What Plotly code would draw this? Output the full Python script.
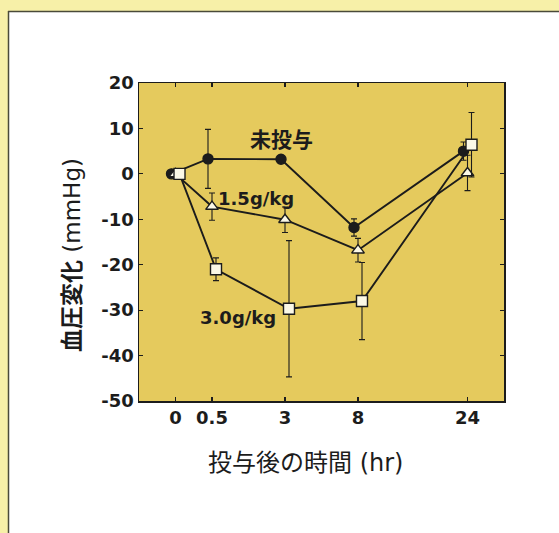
import plotly.graph_objects as go

# ---- data ----
time_labels = ["0", "0.5", "3", "8", "24"]
time_pos = [0, 1, 3, 5, 8]          # axis slots used for the uneven time axis

control = [0, 3.3, 3.2, -11.8, 5.0]
control_err = [0, 6.5, 0.6, 1.9, 2.0]

dose15 = [0, -7.2, -10.1, -16.8, 0.2]
dose15_err = [0, 3.0, 2.8, 2.6, 3.9]

dose30 = [0, -21.0, -29.7, -28.0, 6.4]
dose30_err = [0, 2.5, 15.0, 8.5, 7.1]

y_ticks = [20, 10, 0, -10, -20, -30, -40, -50]
y_tick_labels = ["20", "10", "0", "-10", "-20", "-30", "-40", "-50"]

x_title = "投与後の時間 (hr)"
y_title = "<b>血圧変化</b> (mmHg)"

# ---- layout geometry (pixels) ----
W, H = 559, 533
L, R, T, B = 139, 504, 83, 401
PX_PER_UNIT = (R - L) / 10.0

def px_to_units(p):
    return p / PX_PER_UNIT

def paper_x(px):
    return (px - L) / (R - L)

def paper_y(py):
    return (B - py) / (B - T)

ink = "#1c1c1c"
plot_bg = "#e5ca5d"
outer_bg = "#f7f0a8"

fig = go.Figure()

series = [
    (control, control_err, "circle", 10, ink, -4),
    (dose15, dose15_err, "triangle-up", 11, "#fbf8e6", 0),
    (dose30, dose30_err, "square", 11, "#fbf8e6", 4),
]
for vals, errs, sym, size, fill, dodge in series:
    fig.add_trace(go.Scatter(
        x=[p + px_to_units(dodge) for p in time_pos],
        y=vals,
        mode="lines+markers",
        line=dict(color=ink, width=1.9),
        marker=dict(symbol=sym, size=size, color=fill,
                    line=dict(color=ink, width=1.4)),
        error_y=dict(type="data", array=errs, visible=True,
                     color=ink, thickness=1.1, width=3),
        showlegend=False,
        cliponaxis=False,
        hoverinfo="skip",
    ))

label_font = dict(family="DejaVu Sans, sans-serif", size=18,
                  color=ink, weight="bold")
cjk_family = "DejaVu Sans, Noto Sans CJK JP, sans-serif"

fig.add_annotation(x=2.9, y=7.9, text="未投与", showarrow=False,
                   font=dict(family="Noto Sans CJK JP, sans-serif", size=21,
                             color=ink, weight="bold"))
fig.add_annotation(x=2.21, y=-5.5, text="1.5g/kg", showarrow=False, font=label_font)
fig.add_annotation(x=1.71, y=-31.6, text="3.0g/kg", showarrow=False, font=label_font)

# axis titles placed as text at their positions in the picture
fig.add_annotation(xref="paper", yref="paper", x=paper_x(305), y=paper_y(463),
                   text=x_title, showarrow=False, xanchor="center", yanchor="middle",
                   font=dict(family=cjk_family, size=24, color=ink))
fig.add_annotation(xref="paper", yref="paper", x=paper_x(72), y=paper_y(255),
                   text=y_title, showarrow=False, textangle=-90,
                   xanchor="center", yanchor="middle",
                   font=dict(family=cjk_family, size=23, color=ink))

# outer frame: yellow strips at left and top, dark border line
shapes = [
    dict(type="rect", xref="paper", yref="paper",
         x0=paper_x(-2), x1=paper_x(8), y0=paper_y(H + 2), y1=paper_y(-2),
         fillcolor=outer_bg, line=dict(width=0), layer="above"),
    dict(type="rect", xref="paper", yref="paper",
         x0=paper_x(-2), x1=paper_x(W + 2), y0=paper_y(11), y1=paper_y(-2),
         fillcolor=outer_bg, line=dict(width=0), layer="above"),
    dict(type="line", xref="paper", yref="paper",
         x0=paper_x(8.5), x1=paper_x(8.5), y0=paper_y(H + 2), y1=paper_y(11),
         line=dict(color="#4a4a3a", width=1.5), layer="above"),
    dict(type="line", xref="paper", yref="paper",
         x0=paper_x(8), x1=paper_x(W + 2), y0=paper_y(11.5), y1=paper_y(11.5),
         line=dict(color="#4a4a3a", width=1.5), layer="above"),
]

fig.update_layout(
    width=W, height=H,
    margin=dict(l=L, r=W - R, t=T, b=H - B, pad=0),
    paper_bgcolor="#ffffff",
    plot_bgcolor=plot_bg,
    shapes=shapes,
    hovermode=False,
    xaxis=dict(
        range=[-1, 9],
        tickmode="array", tickvals=time_pos, ticktext=time_labels,
        ticks="inside", ticklen=4, tickwidth=1.2, tickcolor=ink,
        showline=True, linecolor=ink, linewidth=1.5, mirror="ticks",
        showgrid=False, zeroline=False,
        tickfont=label_font,
        automargin=False,
    ),
    yaxis=dict(
        range=[-50, 20],
        tickmode="array", tickvals=y_ticks, ticktext=y_tick_labels,
        ticks="inside", ticklen=4, tickwidth=1.2, tickcolor=ink,
        showline=True, linecolor=ink, linewidth=1.5, mirror="ticks",
        showgrid=False, zeroline=False,
        tickfont=label_font,
        automargin=False,
    ),
)

fig.write_html(
    "out.html",
    config={"displayModeBar": False, "staticPlot": True},
    post_script="document.body.style.margin='0';document.body.style.overflow='hidden';",
)
